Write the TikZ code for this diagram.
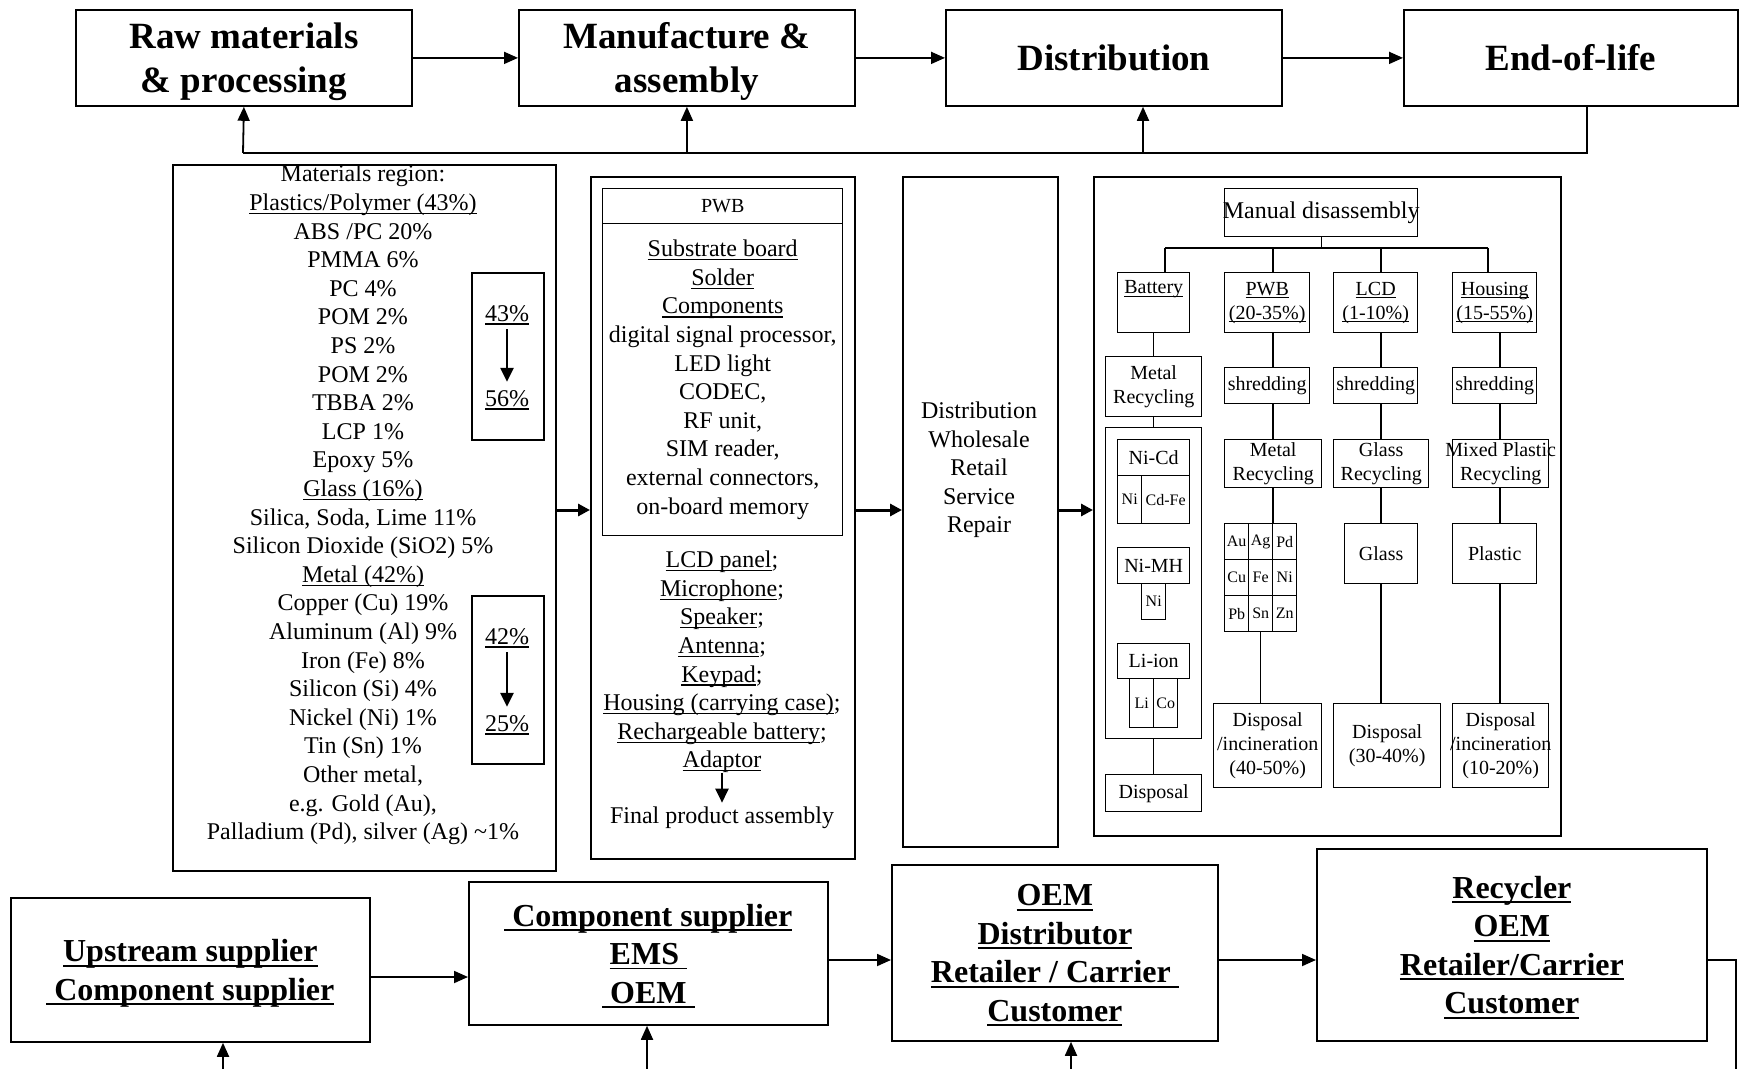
\documentclass[tikz,border=0pt]{standalone}
\usepackage{fontspec}
\setmainfont{Liberation Serif}
\usetikzlibrary{arrows.meta, positioning}
\newcommand{\ovr}[1]{\makebox[0pt]{#1}}
\newcommand{\uln}[1]{\leavevmode\setbox0=\hbox{#1}\rlap{\rule[-0.15em]{\wd0}{0.055em}}\box0}

\begin{document}
\begin{tikzpicture}[
  x=0.5pt, y=-0.5pt,
  wh/.style 2 args = {minimum width=#1*0.5pt, minimum height=#2*0.5pt,
                      anchor=north west},
  box/.style    = {draw, line width=0.9pt, inner sep=0pt},
  thin/.style   = {draw, line width=0.7pt, inner sep=0pt},
  head/.style   = {font=\fontsize{18.5}{22}\selectfont\bfseries, align=center,
                   text depth=0pt},
  actor/.style  = {font=\fontsize{16}{19.25}\selectfont\bfseries, align=center,
                   text depth=-1pt},
  txt/.style    = {font=\fontsize{12}{14.3}\selectfont, align=center, inner sep=0pt},
  sm/.style     = {font=\fontsize{10}{12}\selectfont, align=center},
  xs/.style     = {font=\fontsize{8}{9.6}\selectfont, align=center},
  link/.style   = {line width=0.7pt},
  arr/.style    = {-{Triangle[length=7pt, width=6pt]}, line width=0.9pt},
  fat/.style    = {-{Triangle[length=6pt, width=6pt]}, line width=1.5pt},
  down/.style   = {-{Triangle[length=7pt, width=6.5pt]}, line width=1.2pt},
]
  \useasboundingbox (0,0) rectangle (1739,1069);

  % life-cycle stages
  \node[box, wh={336}{96}, head] (raw)  at (75,9)   {Raw materials\\ \& processing};
  \node[box, wh={336}{96}, head] (manu) at (518,9)  {Manufacture \&\\ assembly};
  \node[box, wh={336}{96}, head] (dist) at (945,9)  {Distribution};
  \node[box, wh={334}{96}, head] (eol)  at (1403,9) {End-of-life};
  \draw[arr] (raw)  -- (manu);
  \draw[arr] (manu) -- (dist);
  \draw[arr] (dist) -- (eol);

  \coordinate (fbR) at (1587,153);
  \coordinate (fbL) at (243,153);
  \coordinate (fbD) at (1143,153);
  \draw[link, line width=0.9pt] (eol.south -| fbR) -- (fbR) -- (fbL);
  \draw[arr] (fbL) -- (raw.south);
  \draw[arr] (manu.south |- fbL) -- (manu.south);
  \draw[arr] (fbD) -- (fbD |- dist.south);

  % materials
  \node[box, wh={383}{706}] (mat) at (172,164) {};
  \node[txt] (matlist) at (363,505) {Materials region:\\ \uln{Plastics/Polymer (43\%)}\\
    ABS /PC 20\%\\ PMMA 6\%\\ PC 4\%\\ POM 2\%\\ PS 2\%\\ POM 2\%\\ TBBA 2\%\\ LCP 1\%\\
    Epoxy 5\%\\ \uln{Glass (16\%)}\\ Silica, Soda, Lime 11\%\\ Silicon Dioxide (SiO2) 5\%\\
    \uln{Metal (42\%)}\\ Copper (Cu) 19\%\\ Aluminum (Al) 9\%\\ Iron (Fe) 8\%\\
    Silicon (Si) 4\%\\ Nickel (Ni) 1\%\\ Tin (Sn) 1\%\\ Other metal,\\ e.g. Gold (Au),\\
    Palladium (Pd), silver (Ag) \textasciitilde1\%};
  \node[box, wh={72}{167}] (plas) at (471,272) {};
  \node[txt] (p43) at (507,315) {\uln{43\%}};
  \node[txt] (p56) at (507,400) {\uln{56\%}};
  \draw[down, shorten <=2pt, shorten >=4pt] (p43) -- (p56);
  \node[box, wh={72}{168}] (metl) at (471,595) {};
  \node[txt] (p42) at (507,638) {\uln{42\%}};
  \node[txt] (p25) at (507,725) {\uln{25\%}};
  \draw[down, shorten <=2pt, shorten >=4pt] (p42) -- (p25);

  % manufacture
  \node[box, wh={264}{682}] (asm) at (590,176) {};
  \node[thin, wh={240}{35}, sm] (pwbhead) at (602,188) {PWB};
  \node[thin, wh={240}{312}, txt] (pwbbody) at (602,223) {\uln{Substrate board}\\
    \uln{Solder}\\ \uln{Components}\\ digital signal processor,\\ LED light\\
    CODEC,\\ RF unit,\\ SIM reader,\\ external connectors,\\ on-board memory};
  \node[txt] (parts) at (722,662) {\uln{LCD panel};\\ \uln{Microphone};\\
    \uln{Speaker};\\ \uln{Antenna};\\ \uln{Keypad};\\
    \uln{Housing (carrying case)};\\ \uln{Rechargeable battery};\\ \uln{Adaptor}};
  \node[txt] (final) at (722,818) {Final product assembly};
  \draw[down, shorten >=2pt] (parts) -- (final);

  % distribution
  \node[box, wh={155}{670}] (sales) at (902,176) {};
  \node[txt] (salestext) at (979,470) {Distribution\\ Wholesale\\ Retail\\ Service\\ Repair};

  % end-of-life
  \node[box, wh={467}{659}] (rec) at (1093,176) {};

  \coordinate (flow) at (0,510);
  \draw[fat] (mat.east |- flow)   -- (asm.west |- flow);
  \draw[fat] (asm.east |- flow)   -- (sales.west |- flow);
  \draw[fat] (sales.east |- flow) -- (rec.west |- flow);

  \node[thin, wh={193}{48}, txt] (manual) at (1224,188) {\ovr{Manual disassembly}};
  \node[thin, wh={72}{60}, sm] (bat)     at (1117,272) {\uln{Battery}\\ \strut};
  \node[thin, wh={85}{60}, sm] (pwbpart) at (1224,272) {\uln{PWB}\\ \uln{(20-35\%)}};
  \node[thin, wh={84}{60}, sm] (lcd)     at (1333,272) {\uln{LCD}\\ \uln{(1-10\%)}};
  \node[thin, wh={84}{60}, sm] (hous)    at (1452,272) {\uln{Housing}\\ \uln{(15-55\%)}};

  \coordinate (brL) at (1165,248);
  \coordinate (brR) at (1488,248);
  \coordinate (xP) at (1273,0);
  \coordinate (xL) at (1381,0);
  \coordinate (xH) at (1500,0);
  \draw[link] (manual.south) -- (manual.south |- brL);
  \draw[link] (brL) -- (brR);
  \draw[link] (brL) -- (brL |- bat.north);
  \draw[link] (xP |- brL) -- (xP |- pwbpart.north);
  \draw[link] (xL |- brL) -- (xL |- lcd.north);
  \draw[link] (brR) -- (brR |- hous.north);

  \node[thin, wh={85}{36}, sm] (shrP) at (1224,367) {shredding};
  \node[thin, wh={84}{36}, sm] (shrL) at (1333,367) {shredding};
  \node[thin, wh={84}{36}, sm] (shrH) at (1452,367) {shredding};

  \node[thin, wh={96}{60}, sm] (metB) at (1105,356) {Metal\\ Recycling};
  \node[thin, wh={97}{48}, sm] (metP) at (1224,439) {Metal\\ Recycling};
  \node[thin, wh={95}{48}, sm] (glsR) at (1333,439) {Glass\\ Recycling};
  \node[thin, wh={96}{48}, sm] (plsR) at (1452,439) {\ovr{Mixed Plastic}\\ Recycling};

  % battery chemistries
  \node[thin, wh={96}{311}] (cells) at (1105,427) {};
  \node[thin, wh={72}{36}, sm] (nicd)  at (1117,439) {Ni-Cd};
  \node[thin, wh={24}{48}, xs] (nicdA) at (1117,475) {Ni};
  \node[thin, wh={48}{48}, xs] (nicdB) at (1141,475) {Cd-Fe};
  \node[thin, wh={72}{36}, sm] (nimh)  at (1117,547) {Ni-MH};
  \node[thin, wh={24}{36}, xs] (nimhA) at (1141,583) {Ni};
  \node[thin, wh={72}{35}, sm] (liion) at (1117,643) {Li-ion};
  \node[thin, wh={24}{49}, xs] (liA)   at (1129,678) {Li};
  \node[thin, wh={24}{49}, xs] (liB)   at (1153,678) {Co};
  \node[thin, wh={96}{37}, sm] (dispB) at (1105,774) {Disposal};
  \draw[link] (bat.south)   -- (metB.north);
  \draw[link] (metB.south)  -- (cells.north);
  \draw[link] (cells.south) -- (dispB.north);

  % recovered metals
  \node[thin, wh={24}{36}, xs] (au) at (1224,523) {Au};
  \node[thin, wh={24}{36}, xs] (ag) at (1248,523) {Ag};
  \node[thin, wh={24}{36}, xs] (pd) at (1272,523) {Pd};
  \node[thin, wh={24}{36}, xs] (cu) at (1224,559) {Cu};
  \node[thin, wh={24}{36}, xs] (fe) at (1248,559) {Fe};
  \node[thin, wh={24}{36}, xs] (ni) at (1272,559) {Ni};
  \node[thin, wh={24}{36}, xs] (pb) at (1224,595) {Pb};
  \node[thin, wh={24}{36}, xs] (sn) at (1248,595) {Sn};
  \node[thin, wh={24}{36}, xs] (zn) at (1272,595) {Zn};

  \node[thin, wh={108}{84}, sm] (dispP)   at (1213,703) {Disposal\\ /incineration\\ (40-50\%)};
  \node[thin, wh={73}{60}, sm]  (glass)   at (1344,523) {Glass};
  \node[thin, wh={107}{84}, sm] (dispL)   at (1333,703) {Disposal\\ (30-40\%)};
  \node[thin, wh={84}{60}, sm]  (plastic) at (1452,523) {Plastic};
  \node[thin, wh={96}{84}, sm]  (dispH)   at (1452,703) {Disposal\\ \ovr{/incineration}\\ (10-20\%)};

  \draw[link] (xP |- pwbpart.south) -- (xP |- shrP.north);
  \draw[link] (xP |- shrP.south)    -- (xP |- metP.north);
  \draw[link] (xP |- metP.south)    -- (xP |- pd.north);
  \draw[link] (sn.south)            -- (sn.south |- dispP.north);
  \draw[link] (xL |- lcd.south)     -- (xL |- shrL.north);
  \draw[link] (xL |- shrL.south)    -- (xL |- glsR.north);
  \draw[link] (xL |- glsR.south)    -- (xL |- glass.north);
  \draw[link] (xL |- glass.south)   -- (xL |- dispL.north);
  \draw[link] (xH |- hous.south)    -- (xH |- shrH.north);
  \draw[link] (xH |- shrH.south)    -- (xH |- plsR.north);
  \draw[link] (xH |- plsR.south)    -- (xH |- plastic.north);
  \draw[link] (xH |- plastic.south) -- (xH |- dispH.north);

  % actors
  \node[box, wh={359}{144}, actor] (ups)  at (10,897)   {\uln{Upstream supplier}\\
    \uln{\ Component supplier}};
  \node[box, wh={359}{143}, actor] (comp) at (468,881)  {\uln{\ Component supplier}\\
    \uln{EMS\ }\\ \uln{\ OEM\ }};
  \node[box, wh={326}{176}, actor] (oem)  at (891,864)  {\uln{OEM}\\ \uln{Distributor}\\
    \uln{Retailer / Carrier\ }\\ \uln{Customer}};
  \node[box, wh={390}{192}, actor] (recy) at (1316,848) {\uln{Recycler}\\ \uln{OEM}\\
    \uln{Retailer/Carrier}\\ \uln{Customer}};

  \coordinate (rowA) at (0,977);
  \coordinate (rowB) at (0,960);
  \draw[arr] (ups.east |- rowA)  -- (comp.west |- rowA);
  \draw[arr] (comp.east |- rowB) -- (oem.west |- rowB);
  \draw[arr] (oem.east |- rowB)  -- (recy.west |- rowB);

  \coordinate (inU) at (223,1069);
  \coordinate (inC) at (647,1069);
  \coordinate (inO) at (1071,1069);
  \coordinate (outR) at (1736,1069);
  \draw[arr] (inU) -- (inU |- ups.south);
  \draw[arr] (inC) -- (inC |- comp.south);
  \draw[arr] (inO) -- (inO |- oem.south);
  \draw[link, line width=0.9pt] (recy.east |- rowB) -| (outR);
\end{tikzpicture}
\end{document}
